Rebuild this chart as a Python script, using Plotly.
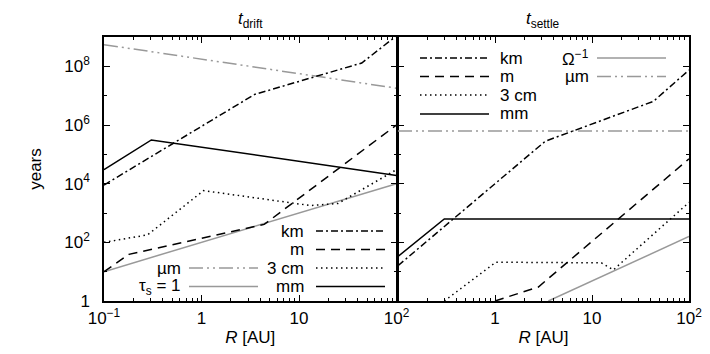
import plotly.graph_objects as go

# ---------------- data ----------------
# left panel: t_drift
R_km_d = [0.1, 3.5, 44, 100]
t_km_d = [9e3, 1.1e7, 1.3e8, 1.1e9]
R_m_d = [0.1, 0.18, 4.4, 100]
t_m_d = [10, 39, 410, 1e6]
R_3cm_d = [0.1, 0.28, 1.05, 13, 25, 100]
t_3cm_d = [100, 180, 5.8e3, 1.8e3, 2.1e3, 3e4]
R_mm_d = [0.1, 0.306, 100]
t_mm_d = [3e4, 3.1e5, 1.9e4]
R_um_d = [0.1, 100]
t_um_d = [5.5e8, 1.8e7]
R_tau_d = [0.1, 100]
t_tau_d = [10, 1e4]

# right panel: t_settle
R_km_s = [0.1, 3.3, 43, 100]
t_km_s = [16, 2.8e5, 6.4e6, 7.5e7]
R_m_s = [1.0, 2.8, 100]
t_m_s = [1, 3, 7e4]
R_3cm_s = [0.3, 1.02, 12.5, 16.6, 100]
t_3cm_s = [1, 21, 20, 11.5, 2.3e3]
R_mm_s = [0.1, 0.3, 100]
t_mm_s = [33, 630, 630]
R_um_s = [0.1, 100]
t_um_s = [6.3e5, 6.3e5]
R_om_s = [3.55, 100]
t_om_s = [1, 158]

x_tickvals_left = [0.1, 1, 10, 100]
x_ticktext_left = ["10<sup>\u22121</sup>", "1", "10", "10<sup>2</sup>"]
x_tickvals_right = [1, 10, 100]
x_ticktext_right = ["1", "10", "10<sup>2</sup>"]
y_tickvals = [1, 1e2, 1e4, 1e6, 1e8]
y_ticktext = ["1", "10<sup>2</sup>", "10<sup>4</sup>", "10<sup>6</sup>", "10<sup>8</sup>"]
y_minorvals = [10, 1e3, 1e5, 1e7]

# ---------------- styles ----------------
BLACK = "#000000"
GRAY = "#999999"
LW = 1.5
D_KM = "7px,3px,2px,3px"
D_M = "9px,6px"
D_DOT = "1.5px,3.5px"
D_UM = "14px,4px,2px,4px,2px,4px"
FONT = "Liberation Sans, Arial, sans-serif"
FS = 17

x_minor = [m * 10 ** e for e in (-1, 0, 1) for m in range(2, 10)]

fig = go.Figure()


def add(x, y, color, dash, xa, ya):
    fig.add_trace(go.Scatter(x=x, y=y, mode="lines", xaxis=xa, yaxis=ya,
                             line=dict(color=color, width=LW, dash=dash),
                             showlegend=False, hoverinfo="skip"))


# left
add(R_um_d, t_um_d, GRAY, D_UM, "x", "y")
add(R_tau_d, t_tau_d, GRAY, "solid", "x", "y")
add(R_km_d, t_km_d, BLACK, D_KM, "x", "y")
add(R_m_d, t_m_d, BLACK, D_M, "x", "y")
add(R_3cm_d, t_3cm_d, BLACK, D_DOT, "x", "y")
add(R_mm_d, t_mm_d, BLACK, "solid", "x", "y")
# right
add(R_um_s, t_um_s, GRAY, D_UM, "x2", "y2")
add(R_om_s, t_om_s, GRAY, "solid", "x2", "y2")
add(R_km_s, t_km_s, BLACK, D_KM, "x2", "y2")
add(R_m_s, t_m_s, BLACK, D_M, "x2", "y2")
add(R_3cm_s, t_3cm_s, BLACK, D_DOT, "x2", "y2")
add(R_mm_s, t_mm_s, BLACK, "solid", "x2", "y2")

W, H = 710, 354
ML, MR, MT, MB = 96, 29, 29, 61
PW, PH = W - ML - MR, H - MT - MB
AXW = 1.5
SPLIT = 0.5
SPLIT2 = SPLIT + AXW / PW  # make the two border lines coincide


def px(xp):
    return (xp - ML) / PW


def py(yp):
    return (H - MB - yp) / PH


axis_common = dict(type="log", showline=True, linecolor=BLACK, linewidth=AXW,
                   mirror="allticks", ticks="inside", ticklen=6, tickwidth=1,
                   tickcolor=BLACK, showgrid=False, zeroline=False,
                   tickfont=dict(family=FONT, size=FS, color=BLACK))

fig.update_layout(
    width=W, height=H, margin=dict(l=ML, r=MR, t=MT, b=MB),
    paper_bgcolor="white", plot_bgcolor="rgba(0,0,0,0)",
    font=dict(family=FONT, size=FS, color=BLACK),
    xaxis=dict(axis_common, domain=[0, SPLIT], range=[-1, 2], anchor="y",
               tickmode="array", tickvals=x_tickvals_left, ticktext=x_ticktext_left,
               ticklabelstandoff=1,
               minor=dict(tickmode="array", tickvals=x_minor, ticks="inside",
                          ticklen=3, tickcolor=BLACK, showgrid=False),
               title=dict(text="<i>R</i> [AU]", standoff=4,
                          font=dict(family=FONT, size=FS))),
    xaxis2=dict(axis_common, domain=[SPLIT2, 1], range=[-1, 2], anchor="y2",
                tickmode="array", tickvals=x_tickvals_right, ticktext=x_ticktext_right,
                ticklabelstandoff=1,
                minor=dict(tickmode="array", tickvals=x_minor, ticks="inside",
                           ticklen=3, tickcolor=BLACK, showgrid=False),
                title=dict(text="<i>R</i> [AU]", standoff=4,
                           font=dict(family=FONT, size=FS))),
    yaxis=dict(axis_common, domain=[0, 1], range=[0, 9], anchor="x",
               tickmode="array", tickvals=y_tickvals, ticktext=y_ticktext,
               ticklabelstandoff=9,
               minor=dict(tickmode="array", tickvals=y_minorvals, ticks="inside",
                          ticklen=3, tickcolor=BLACK, showgrid=False),
               title=dict(text="years", standoff=18, font=dict(family=FONT, size=FS))),
    yaxis2=dict(axis_common, domain=[0, 1], range=[0, 9], anchor="x2",
                tickmode="array", tickvals=y_tickvals, showticklabels=False,
                minor=dict(tickmode="array", tickvals=y_minorvals, ticks="inside",
                           ticklen=3, tickcolor=BLACK, showgrid=False)),
)

# titles
fig.add_annotation(text="<i>t</i><sub>drift</sub>", xref="paper", yref="paper",
                   x=SPLIT / 2, y=py(12), xanchor="center", yanchor="middle",
                   showarrow=False, font=dict(family=FONT, size=FS))
fig.add_annotation(text="<i>t</i><sub>settle</sub>", xref="paper", yref="paper",
                   x=(SPLIT + 1) / 2, y=py(12), xanchor="center", yanchor="middle",
                   showarrow=False, font=dict(family=FONT, size=FS))

# ---------------- manual legends ----------------
def legend_item(label, color, dash, x0, x1, yrow, text_x, anchor):
    fig.add_shape(type="line", xref="paper", yref="paper",
                  x0=px(x0), x1=px(x1), y0=py(yrow), y1=py(yrow),
                  line=dict(color=color, width=LW, dash=dash))
    fig.add_annotation(text=label, xref="paper", yref="paper",
                       x=px(text_x), y=py(yrow), xanchor=anchor, yanchor="middle",
                       showarrow=False, font=dict(family=FONT, size=FS))


# left legend (text then line)
legend_item("km", BLACK, D_KM, 308, 377, 223, 298, "right")
legend_item("m", BLACK, D_M, 308, 377, 241.5, 298, "right")
legend_item("3 cm", BLACK, D_DOT, 308, 377, 260, 298, "right")
legend_item("mm", BLACK, "solid", 308, 377, 278.5, 298, "right")
legend_item("\u00b5m", GRAY, D_UM, 181, 250, 260, 175, "right")
legend_item("\u03c4<sub>s</sub> = 1", GRAY, "solid", 181, 250, 278.5, 175, "right")

# right legend (line then text)
legend_item("km", BLACK, D_KM, 412, 481, 50, 490, "left")
legend_item("m", BLACK, D_M, 412, 481, 68.5, 490, "left")
legend_item("3 cm", BLACK, D_DOT, 412, 481, 87, 490, "left")
legend_item("mm", BLACK, "solid", 412, 481, 106, 490, "left")
legend_item("\u03a9<sup>\u22121</sup>", GRAY, "solid", 589, 658, 50, 583, "right")
legend_item("\u00b5m", GRAY, D_UM, 589, 658, 68.5, 583, "right")

fig.write_html("out.html")
